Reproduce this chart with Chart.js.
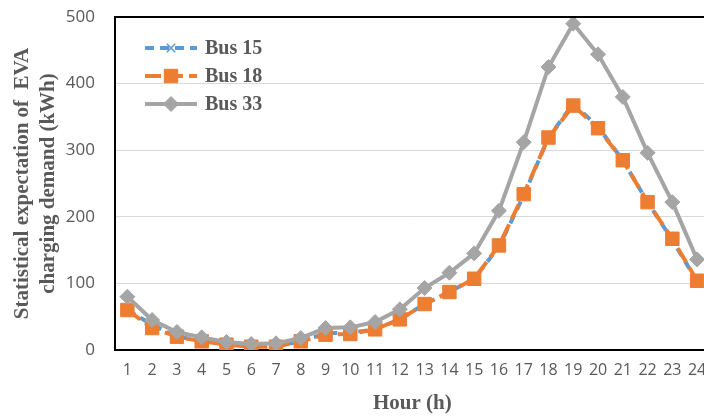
<!DOCTYPE html>
<html>
<head>
<meta charset="utf-8">
<script src="https://cdn.jsdelivr.net/npm/chart.js@4/dist/chart.umd.min.js"></script>
<style>
  html, body { margin: 0; padding: 0; background: #fff; overflow: hidden; }
  #wrap { width: 720px; height: 416px; }
</style>
</head>
<body>
<div id="wrap"><canvas id="chart" width="720" height="416"></canvas></div>
<script>
// dados
const hours = ['1','2','3','4','5','6','7','8','9','10','11','12','13','14','15','16','17','18','19','20','21','22','23','24'];
const bus15 = [60, 38, 20, 14, 10, 6, 6, 13, 25, 26, 31, 46, 69, 87, 107, 155, 232, 319, 370, 335, 285, 222, 165, 103];
const bus18 = [60, 33, 20, 13, 8, 5, 5, 13, 23, 24, 31, 46, 69, 87, 107, 157, 234, 319, 367, 333, 285, 222, 167, 104];
const bus33 = [80, 45, 27, 19, 12, 9, 10, 18, 33, 34, 42, 61, 93, 116, 145, 209, 312, 425, 490, 444, 380, 296, 222, 136];
const yTicks = [0, 100, 200, 300, 400, 500];

const textGray = '#595959';

// legenda desenhada dentro da área do gráfico
const legendaInterna = {
  id: 'legendaInterna',
  afterDraw(chart) {
    const ctx = chart.ctx;
    const x0 = 145, x1 = 197, y0 = 48, dy = 28;
    chart.data.datasets.forEach((ds, i) => {
      const y = y0 + i * dy;
      ctx.save();
      ctx.strokeStyle = ds.borderColor;
      ctx.lineWidth = ds.borderWidth;
      ctx.setLineDash(ds.borderDash || []);
      ctx.beginPath();
      ctx.moveTo(x0, y);
      ctx.lineTo(x1, y);
      ctx.stroke();
      ctx.setLineDash([]);
      ctx.fillStyle = ds.backgroundColor;
      ctx.strokeStyle = ds.pointBorderColor;
      ctx.lineWidth = ds.pointBorderWidth || 1;
      Chart.helpers.drawPoint(ctx, {
        pointStyle: ds.pointStyle,
        radius: ds.pointRadius,
        borderWidth: ds.pointBorderWidth || 1,
        rotation: 0
      }, (x0 + x1) / 2, y);
      ctx.restore();
      ctx.save();
      ctx.fillStyle = textGray;
      ctx.font = 'bold 20px "Liberation Serif"';
      ctx.textBaseline = 'middle';
      ctx.fillText(ds.label, 205, y + 1);
      ctx.restore();
    });
  }
};

// borda superior preta
const bordaTopo = {
  id: 'bordaTopo',
  afterDatasetsDraw(chart) {
    const a = chart.chartArea, ctx = chart.ctx;
    ctx.save();
    ctx.strokeStyle = '#000';
    ctx.lineWidth = 2;
    ctx.beginPath();
    ctx.moveTo(a.left, a.top);
    ctx.lineTo(a.right, a.top);
    ctx.stroke();
    ctx.restore();
  }
};

const data = {
  labels: hours,
  datasets: [
    {
      label: 'Bus 15',
      data: bus15,
      borderColor: '#5b9bd5',
      backgroundColor: '#5b9bd5',
      borderWidth: 4,
      borderDash: [9, 6],
      pointStyle: 'crossRot',
      pointRadius: 6,
      pointBorderWidth: 1.5,
      pointBorderColor: '#5b9bd5',
      order: 3
    },
    {
      label: 'Bus 18',
      data: bus18,
      borderColor: '#ed7d31',
      backgroundColor: '#ed7d31',
      borderWidth: 4,
      borderDash: [16, 6],
      pointStyle: 'rect',
      pointRadius: 9.5,
      pointBorderWidth: 1,
      pointBorderColor: '#ed7d31',
      order: 2
    },
    {
      label: 'Bus 33',
      data: bus33,
      borderColor: '#a5a5a5',
      backgroundColor: '#a5a5a5',
      borderWidth: 4,
      pointStyle: 'rectRot',
      pointRadius: 7.5,
      pointBorderWidth: 1,
      pointBorderColor: '#a5a5a5',
      order: 1
    }
  ]
};

const config = {
  type: 'line',
  data: data,
  options: {
    responsive: false,
    animation: false,
    layout: { padding: { top: 17, right: 3, left: 0, bottom: 0 } },
    plugins: {
      legend: { display: false },
      tooltip: { enabled: false }
    },
    scales: {
      x: {
        offset: true,
        grid: { display: false, drawTicks: false },
        border: { color: '#000', width: 2 },
        ticks: {
          color: textGray,
          font: { family: '"Open Sans"', size: 16 },
          padding: 11,
          maxRotation: 0,
          autoSkip: false
        },
        title: {
          display: true,
          text: 'Hour (h)',
          color: textGray,
          font: { family: '"Liberation Serif"', size: 21, weight: 'bold' },
          padding: { top: 4, bottom: 0 }
        },
        afterFit: s => { s.height = 66; }
      },
      y: {
        min: 0,
        max: 500,
        afterBuildTicks: s => { s.ticks = yTicks.map(v => ({ value: v })); },
        grid: {
          drawTicks: false,
          color: '#d9d9d9',
          lineWidth: c => (c.tick && c.tick.value === 500) ? 0 : 1
        },
        border: { color: '#000', width: 2 },
        ticks: {
          color: textGray,
          font: { family: '"Open Sans"', size: 17 },
          padding: 20
        },
        title: {
          display: true,
          text: ['Statistical expectation of  EVA', 'charging demand (kWh)'],
          color: textGray,
          font: { family: '"Liberation Serif"', size: 21, weight: 'bold', lineHeight: 1.25 },
          padding: { top: 9, bottom: 0 }
        },
        afterFit: s => { s.width = 115; s.paddingTop = 0; s.paddingBottom = 0; }
      }
    }
  },
  plugins: [legendaInterna, bordaTopo]
};

const myChart = new Chart(document.getElementById('chart'), config);
</script>
</body>
</html>
